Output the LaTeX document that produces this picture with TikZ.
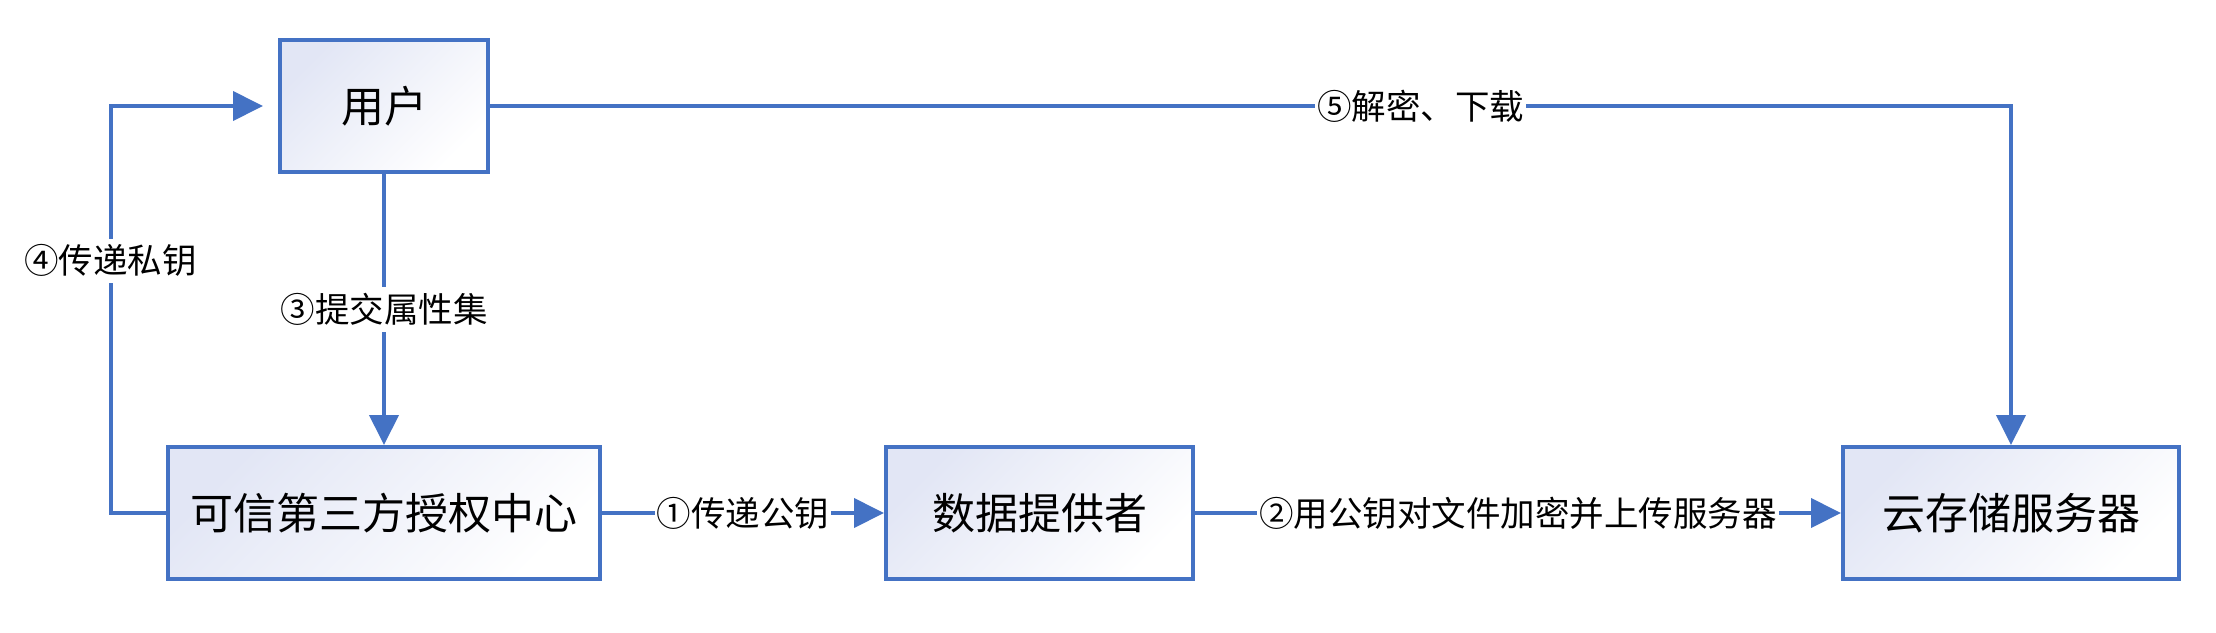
\documentclass[tikz,border=0pt]{standalone}
\usepackage{fontspec}
\setmainfont{Noto Sans CJK SC}
\usetikzlibrary{arrows.meta}
\definecolor{lineblue}{HTML}{4472C4}
\definecolor{boxfill}{RGB}{226,230,245}
\begin{document}
\begin{tikzpicture}[x=0.5pt,y=-0.5pt,
  box/.style={draw=lineblue, line width=2pt, minimum height=66pt,
    top color=boxfill, bottom color=white, shading angle=45,
    font=\fontsize{21.5}{26}\selectfont, inner sep=0pt},
  conn/.style={draw=lineblue, line width=2pt, -{Triangle[length=15pt,width=14.5pt]}},
  lbl/.style={fill=white, text=black, font=\fontsize{17.25}{20}\selectfont, inner xsep=1pt, inner ysep=3pt}]
\useasboundingbox (0,0) rectangle (2216,632);
\node[box, minimum width=104pt] (user) at (384,106) {用户};
\node[box, minimum width=216pt] (ttp) at (384,513) {可信第三方授权中心};
\node[box, minimum width=153.5pt] (dp) at (1039.5,513) {数据提供者};
\node[box, minimum width=168pt] (cloud) at (2011,513) {云存储服务器};
\coordinate (lcorner) at (110.7,513);
\draw[conn] (user.south) -- node[lbl]{③提交属性集} (ttp.north);
\draw[conn] (ttp.east) -- node[lbl]{①传递公钥} (dp.west);
\draw[conn] (dp.east) -- node[lbl]{②用公钥对文件加密并上传服务器} (cloud.west);
\draw[conn] (ttp.west) -- (lcorner) |- node[lbl, pos=0.31]{④传递私钥} ([xshift=-7.5pt]user.west);
\draw[conn] (user.east) -| node[lbl, pos=0.306]{⑤解密、下载} (cloud.north);
\end{tikzpicture}
\end{document}
